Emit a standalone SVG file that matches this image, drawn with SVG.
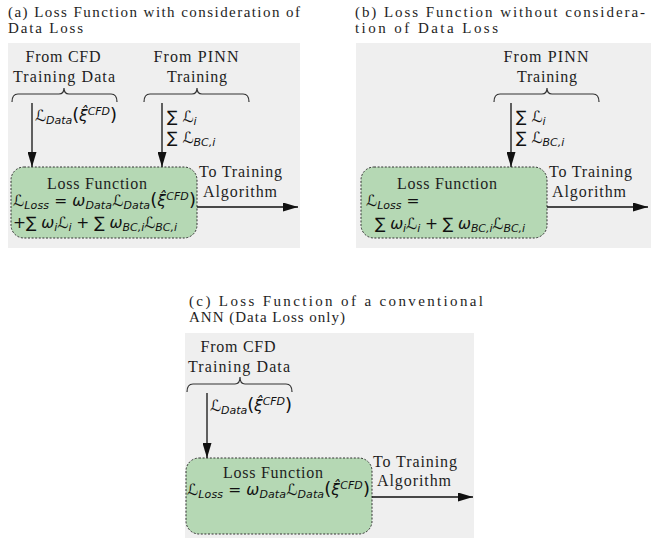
<svg xmlns="http://www.w3.org/2000/svg" width="651" height="541" viewBox="0 0 651 541">
<defs>
<style>
.t{font-family:"Liberation Serif","DejaVu Serif",serif;font-size:16px;fill:#1e1e1e}
.h{font-size:15px}
.c{text-anchor:middle}
.m{font-family:"DejaVu Sans","Noto Sans",sans-serif;font-size:15.5px;font-style:italic;fill:#111}
.s{font-size:11px}
.u{font-style:normal}
.p{font-style:normal;font-size:18px}
.bg{fill:#efefef}
.box{fill:#b5d8b4;stroke:#333;stroke-width:1;stroke-dasharray:2 1.6}
.br{fill:none;stroke:#333;stroke-width:1.2}
.ar{fill:none;stroke:#111;stroke-width:1.3}
</style>
<marker id="ah" markerWidth="15" markerHeight="9" refX="15" refY="4.5" orient="auto" markerUnits="userSpaceOnUse">
<path d="M0,0 L15,4.5 L0,9 Z" fill="#111"/>
</marker>
</defs>
<g id="panel-a">
<text class="t h" x="8" y="16.5" textLength="292" lengthAdjust="spacing">(a) Loss Function with consideration of</text>
<text class="t h" x="8" y="33.3" textLength="75" lengthAdjust="spacing">Data Loss</text>
<rect class="bg" x="8" y="43" width="292" height="205"/>
</g>
<g id="panel-b">
<text class="t h" x="355" y="16.5" textLength="290" lengthAdjust="spacing">(b) Loss Function without considera-</text>
<text class="t h" x="355" y="33.3" textLength="143" lengthAdjust="spacing">tion of Data Loss</text>
<rect class="bg" x="356" y="43" width="295" height="205"/>
</g>
<g id="panel-c">
<text class="t h" x="189" y="305.5" textLength="294" lengthAdjust="spacing">(c) Loss Function of a conventional</text>
<text class="t h" x="189" y="322.3" textLength="156" lengthAdjust="spacing">ANN (Data Loss only)</text>
<rect class="bg" x="185" y="333" width="289" height="205"/>
</g>
<g id="a-cfd">
<text class="t c" x="63" y="62" textLength="75" lengthAdjust="spacing">From CFD</text>
<text class="t c" x="64" y="82" textLength="102" lengthAdjust="spacing">Training Data</text>
<path class="br" d="M12,102 Q12,94 18,94 L59,94 Q64,94 64,88 Q64,94 69,94 L111,94 Q117,94 117,102"/>
</g>
<g id="a-pinn">
<text class="t c" x="196" y="62" textLength="85" lengthAdjust="spacing">From PINN</text>
<text class="t c" x="197" y="82" textLength="60" lengthAdjust="spacing">Training</text>
<path class="br" d="M144,102 Q144,94 150,94 L192,94 Q197,94 197,88 Q197,94 202,94 L243,94 Q249,94 249,102"/>
</g>
<g id="a-loss">
<rect class="box" x="11" y="167" width="186" height="71" rx="13"/>
<text class="t c" x="97" y="189" textLength="100" lengthAdjust="spacing">Loss Function</text>
<text class="m" x="13" y="206" textLength="183" lengthAdjust="spacing">ℒ<tspan class="s" dy="3">Loss</tspan><tspan class="u" dy="-3"> = </tspan>ω<tspan class="s" dy="3">Data</tspan><tspan dy="-3">ℒ</tspan><tspan class="s" dy="3">Data</tspan><tspan class="p" dy="-3">(</tspan>ξ̂<tspan class="s" dy="-6">CFD</tspan><tspan class="p" dy="6">)</tspan></text>
<text class="m" x="13" y="228" textLength="164" lengthAdjust="spacing"><tspan class="u">+∑ </tspan>ω<tspan class="s" dy="3">i</tspan><tspan dy="-3">ℒ</tspan><tspan class="s" dy="3">i</tspan><tspan class="u" dy="-3"> + ∑ </tspan>ω<tspan class="s" dy="3">BC,i</tspan><tspan dy="-3">ℒ</tspan><tspan class="s" dy="3">BC,i</tspan></text>
</g>
<g id="a-out">
<text class="t" x="199" y="177" textLength="83" lengthAdjust="spacing">To Training</text>
<text class="t c" x="240" y="197" textLength="74" lengthAdjust="spacing">Algorithm</text>
</g>
<g id="b-pinn">
<text class="t c" x="546" y="62" textLength="85" lengthAdjust="spacing">From PINN</text>
<text class="t c" x="547" y="82" textLength="60" lengthAdjust="spacing">Training</text>
<path class="br" d="M494,102 Q494,94 500,94 L542,94 Q547,94 547,88 Q547,94 552,94 L593,94 Q599,94 599,102"/>
</g>
<g id="b-loss">
<rect class="box" x="361" y="167" width="186" height="71" rx="13"/>
<text class="t c" x="447" y="189" textLength="100" lengthAdjust="spacing">Loss Function</text>
<text class="m" x="366" y="206">ℒ<tspan class="s" dy="3">Loss</tspan><tspan class="u" dy="-3"> =</tspan></text>
<text class="m" x="375" y="229" textLength="150" lengthAdjust="spacing"><tspan class="u">∑ </tspan>ω<tspan class="s" dy="3">i</tspan><tspan dy="-3">ℒ</tspan><tspan class="s" dy="3">i</tspan><tspan class="u" dy="-3"> + ∑ </tspan>ω<tspan class="s" dy="3">BC,i</tspan><tspan dy="-3">ℒ</tspan><tspan class="s" dy="3">BC,i</tspan></text>
</g>
<g id="b-out">
<text class="t" x="549" y="177" textLength="83" lengthAdjust="spacing">To Training</text>
<text class="t c" x="589" y="197" textLength="74" lengthAdjust="spacing">Algorithm</text>
</g>
<g id="c-cfd">
<text class="t c" x="238" y="352" textLength="75" lengthAdjust="spacing">From CFD</text>
<text class="t c" x="239" y="372" textLength="102" lengthAdjust="spacing">Training Data</text>
<path class="br" d="M187,392 Q187,384 193,384 L235,384 Q240,384 240,377 Q240,384 245,384 L286,384 Q292,384 292,392"/>
</g>
<g id="c-loss">
<rect class="box" x="186" y="458" width="186" height="76" rx="13"/>
<text class="t c" x="273" y="478" textLength="100" lengthAdjust="spacing">Loss Function</text>
<text class="m" x="187" y="495" textLength="183" lengthAdjust="spacing">ℒ<tspan class="s" dy="3">Loss</tspan><tspan class="u" dy="-3"> = </tspan>ω<tspan class="s" dy="3">Data</tspan><tspan dy="-3">ℒ</tspan><tspan class="s" dy="3">Data</tspan><tspan class="p" dy="-3">(</tspan>ξ̂<tspan class="s" dy="-6">CFD</tspan><tspan class="p" dy="6">)</tspan></text>
</g>
<g id="c-out">
<text class="t" x="373" y="467" textLength="84" lengthAdjust="spacing">To Training</text>
<text class="t c" x="414" y="486" textLength="74" lengthAdjust="spacing">Algorithm</text>
</g>
<g id="connectors">
<line class="ar" x1="32" y1="103" x2="32" y2="167" marker-end="url(#ah)"/>
<text class="m" x="35" y="121" textLength="82" lengthAdjust="spacing">ℒ<tspan class="s" dy="3">Data</tspan><tspan class="p" dy="-3">(</tspan>ξ̂<tspan class="s" dy="-6">CFD</tspan><tspan class="p" dy="6">)</tspan></text>
<line class="ar" x1="162" y1="103" x2="162" y2="167" marker-end="url(#ah)"/>
<text class="m" x="167" y="122"><tspan class="u">∑ </tspan>ℒ<tspan class="s" dy="3">i</tspan></text>
<text class="m" x="167" y="143"><tspan class="u">∑ </tspan>ℒ<tspan class="s" dy="3">BC,i</tspan></text>
<line class="ar" x1="197" y1="207" x2="298" y2="207" marker-end="url(#ah)"/>
<line class="ar" x1="511" y1="103" x2="511" y2="167" marker-end="url(#ah)"/>
<text class="m" x="516" y="122"><tspan class="u">∑ </tspan>ℒ<tspan class="s" dy="3">i</tspan></text>
<text class="m" x="516" y="143"><tspan class="u">∑ </tspan>ℒ<tspan class="s" dy="3">BC,i</tspan></text>
<line class="ar" x1="547" y1="207" x2="648" y2="207" marker-end="url(#ah)"/>
<line class="ar" x1="207" y1="393" x2="207" y2="458" marker-end="url(#ah)"/>
<text class="m" x="210" y="411" textLength="82" lengthAdjust="spacing">ℒ<tspan class="s" dy="3">Data</tspan><tspan class="p" dy="-3">(</tspan>ξ̂<tspan class="s" dy="-6">CFD</tspan><tspan class="p" dy="6">)</tspan></text>
<line class="ar" x1="372" y1="497" x2="473" y2="497" marker-end="url(#ah)"/>
</g>
</svg>
